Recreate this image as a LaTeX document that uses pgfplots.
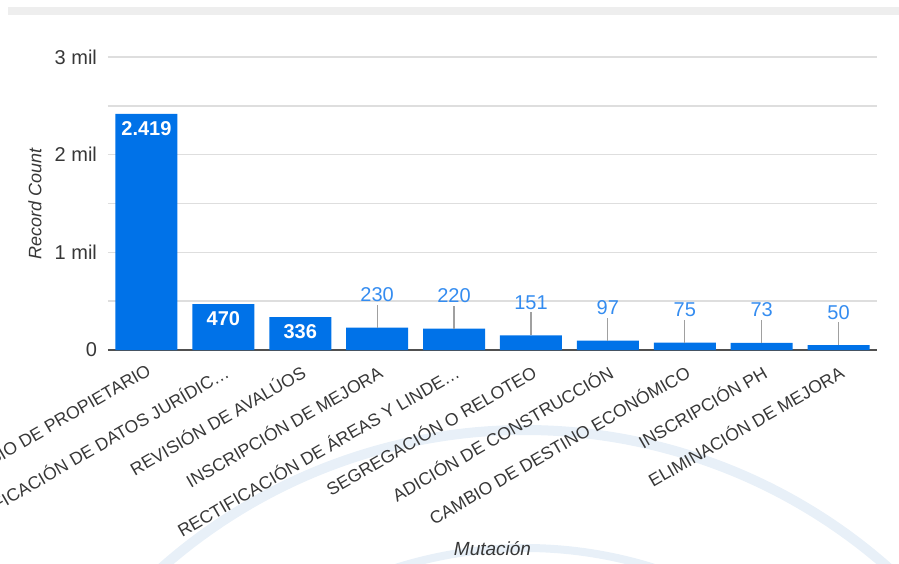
\documentclass[border=0pt]{standalone}
\usepackage{pgfplots}
\pgfplotsset{compat=1.18}
\usepackage{fontspec}
\setmainfont{Liberation Sans}
\definecolor{barblue}{RGB}{0,114,232}
\definecolor{lblblue}{RGB}{52,140,240}
\definecolor{gridgray}{RGB}{222,222,222}
\definecolor{axisgray}{RGB}{80,80,80}
\definecolor{txtgray}{RGB}{55,55,55}
\definecolor{leadgray}{RGB}{160,160,160}
\definecolor{wmblue}{RGB}{232,240,248}
\pgfplotsset{/pgf/number format/assume math mode=true, /pgf/number format/1000 sep={.}}
\begin{document}
\begin{tikzpicture}
% faint watermark arcs in the background
\draw[wmblue, line width=5pt] (208.5pt,-314pt) ++(145:274pt) arc[start angle=145, end angle=35, radius=274pt];
\draw[wmblue, line width=4pt] (208.5pt,-314pt) ++(140:215pt) arc[start angle=140, end angle=40, radius=215pt];
% top strip
\fill[gray!13] (-50pt,167.5pt) rectangle (395.5pt,171.5pt);
\begin{axis}[
  at={(0,0)}, anchor=south west,
  scale only axis, width=384.5pt, height=146.5pt,
  xmin=-0.5, xmax=9.5, ymin=0, ymax=3000,
  axis lines*=left,
  y axis line style={draw=none},
  x axis line style={draw=axisgray, line width=1.3pt},
  major tick length=0pt,
  ytick={0,500,1000,1500,2000,2500,3000},
  yticklabels={0,{},1 mil,{},2 mil,{},3 mil},
  ymajorgrids, grid style={gridgray, line width=0.8pt},
  xtick={0,1,2,3,4,5,6,7,8,9},
  xticklabels={{CAMBIO DE PROPIETARIO}, {RECTIFICACIÓN DE DATOS JURÍDIC\ldots}, {REVISIÓN DE AVALÚOS}, {INSCRIPCIÓN DE MEJORA}, {RECTIFICACIÓN DE ÁREAS Y LINDE\ldots}, {SEGREGACIÓN O RELOTEO}, {ADICIÓN DE CONSTRUCCIÓN}, {CAMBIO DE DESTINO ECONÓMICO}, {INSCRIPCIÓN PH}, {ELIMINACIÓN DE MEJORA}},
  xticklabel style={rotate=30, anchor=north east, inner sep=1pt, yshift=-4.5pt, xshift=-2.5pt, font=\fontsize{8.8}{10}\selectfont, text=txtgray},
  yticklabel style={font=\fontsize{10}{12}\selectfont, text=txtgray, xshift=-2pt},
  xlabel={Mutación}, ylabel={Record Count},
  every axis x label/.style={at={(axis description cs:0.5,-0.679)}, anchor=center, font=\itshape\fontsize{9.5}{11}\selectfont, text=txtgray},
  every axis y label/.style={at={(axis description cs:-0.095,0.5)}, rotate=90, anchor=center, font=\itshape\fontsize{9}{11}\selectfont, text=txtgray},
  clip=false,
]
\addplot[ybar, bar width=31pt, bar shift=0pt, fill=barblue, draw=none]
  coordinates {(0,2419) (1,470) (2,336) (3,230) (4,220) (5,151) (6,97) (7,75) (8,73) (9,50)};
% labels inside the tall bars
\addplot[draw=none, mark=none, point meta=y, nodes near coords,
  every node near coord/.append style={anchor=north, yshift=-3.5pt, inner sep=0pt, text=white, font=\bfseries\fontsize{10}{12}\selectfont}]
  coordinates {(0,2419) (1,470) (2,336)};
% labels above the short bars, with leader lines
\addplot[only marks, mark=none, point meta=y, nodes near coords,
  error bars/y dir=plus, error bars/y fixed=235, error bars/error mark=none,
  error bars/error bar style={draw=leadgray, line width=0.6pt},
  every node near coord/.append style={anchor=center, yshift=16.5pt, inner sep=0pt, text=lblblue, font=\fontsize{10}{12}\selectfont}]
  coordinates {(3,230) (4,220) (5,151) (6,97) (7,75) (8,73) (9,50)};
\end{axis}
\pgfresetboundingbox
\path[use as bounding box] (-54pt,-106.5pt) rectangle (395.5pt,175pt);
\end{tikzpicture}
\end{document}
